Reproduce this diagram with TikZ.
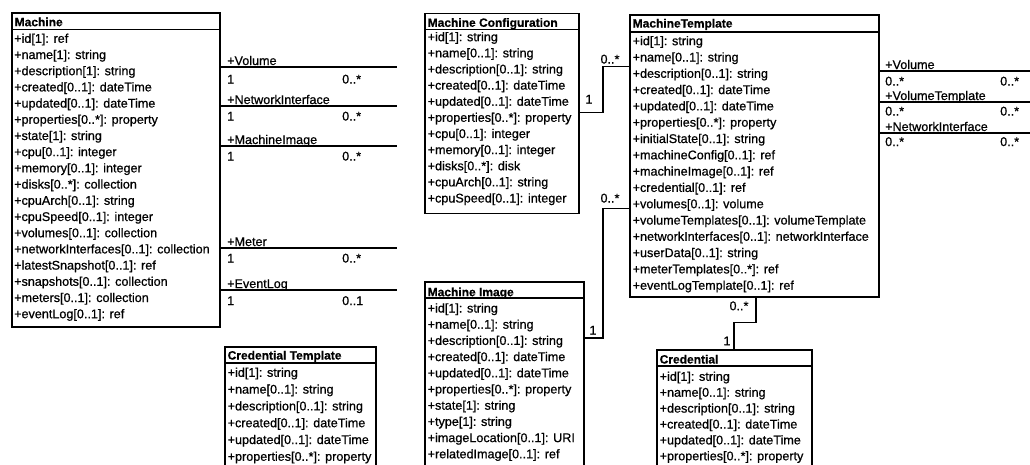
\documentclass[tikz,border=0pt]{standalone}
\usepackage{fontspec}
\setmainfont{Liberation Sans}
\newfontfamily\rowfont[FakeBold=0.7]{Liberation Sans}
\newfontfamily\headfont[FakeBold=0.6]{Liberation Sans Bold}
\tikzset{
  boxst/.style={draw, line width=1.6pt, inner sep=0pt, outer sep=0pt, anchor=north west},
  rowst/.style={anchor=west, inner sep=0pt, text height=9.5pt, text depth=2.5pt, font=\rowfont\fontsize{12.6}{15}\selectfont},
  lab/.style={rowst, anchor=center},
  headst/.style={rowst, font=\headfont\fontsize{12}{15}\selectfont},
  hline/.style={line width=1.8pt},
  link/.style={line width=1.3pt},
}
\newcommand\umlclass[8]{%
  \node[boxst, minimum width={(#4)-(#2)}, minimum height={(#5)-(#3)}] (#1) at (#2,#3) {};
  \node[headst] (#1-h) at ({#2+2.5},#6) {#8};
  \draw[hline] (#2,#7) -- (#4,#7);
}
\newcommand\umlrows[5]{%
  \foreach \t [count=\i] in {#5} \node[rowst] (#1-\i) at ({#2}, {#3+(\i-1)*#4}) {\t};
}
\begin{document}
\begin{tikzpicture}[x=1pt, y=-1pt]
\useasboundingbox (0,0) rectangle (1030,464);
\clip (0,0) rectangle (1030,464);
\fill[white] (0,0) rectangle (1030,464);

% Machine
\umlclass{machine}{12}{13}{220}{327}{22.7}{29.5}{Machine}
\umlrows{machine}{14}{39.3}{16.2}{{+id[1]: ref},{+name[1]: string},{+description[1]: string},{+created[0..1]: dateTime},{+updated[0..1]: dateTime},{+properties[0..*]: property},{+state[1]: string},{+cpu[0..1]: integer},{+memory[0..1]: integer},{+disks[0..*]: collection},{+cpuArch[0..1]: string},{+cpuSpeed[0..1]: integer},{+volumes[0..1]: collection},{+networkInterfaces[0..1]: collection},{+latestSnapshot[0..1]: ref},{+snapshots[0..1]: collection},{+meters[0..1]: collection},{+eventLog[0..1]: ref}}

% Machine Configuration
\umlclass{mconf}{425}{13.3}{579}{213.3}{23.3}{29.5}{Machine Configuration}
\umlrows{mconf}{427.5}{37.7}{16.13}{{+id[1]: string},{+name[0..1]: string},{+description[0..1]: string},{+created[0..1]: dateTime},{+updated[0..1]: dateTime},{+properties[0..*]: property},{+cpu[0..1]: integer},{+memory[0..1]: integer},{+disks[0..*]: disk},{+cpuArch[0..1]: string},{+cpuSpeed[0..1]: integer}}

% MachineTemplate
\umlclass{mtemp}{630}{15}{879}{297}{24}{32}{MachineTemplate}
\umlrows{mtemp}{632.5}{41.7}{16.3}{{+id[1]: string},{+name[0..1]: string},{+description[0..1]: string},{+created[0..1]: dateTime},{+updated[0..1]: dateTime},{+properties[0..*]: property},{+initialState[0..1]: string},{+machineConfig[0..1]: ref},{+machineImage[0..1]: ref},{+credential[0..1]: ref},{+volumes[0..1]: volume},{+volumeTemplates[0..1]: volumeTemplate},{+networkInterfaces[0..1]: networkInterface},{+userData[0..1]: string},{+meterTemplates[0..*]: ref},{+eventLogTemplate[0..1]: ref}}

% Machine Image
\umlclass{mimg}{425}{281.7}{584}{480}{292.7}{298}{Machine Image}
\umlrows{mimg}{427.5}{309}{16.2}{{+id[1]: string},{+name[0..1]: string},{+description[0..1]: string},{+created[0..1]: dateTime},{+updated[0..1]: dateTime},{+properties[0..*]: property},{+state[1]: string},{+type[1]: string},{+imageLocation[0..1]: URI},{+relatedImage[0..1]: ref}}

% Credential Template
\umlclass{credt}{225}{346.7}{376}{480}{356}{363}{Credential Template}
\umlrows{credt}{227.5}{373.3}{16.8}{{+id[1]: string},{+name[0..1]: string},{+description[0..1]: string},{+created[0..1]: dateTime},{+updated[0..1]: dateTime},{+properties[0..*]: property}}

% Credential
\umlclass{cred}{657}{350}{812}{480}{360}{366}{Credential}
\umlrows{cred}{659.5}{377.3}{15.9}{{+id[1]: string},{+name[0..1]: string},{+description[0..1]: string},{+created[0..1]: dateTime},{+updated[0..1]: dateTime},{+properties[0..*]: property}}

% Machine associations (free ends)
\coordinate (mvol) at (397,67);
\coordinate (mni) at (397,106);
\coordinate (mmi) at (397,146);
\coordinate (mmet) at (397,248);
\coordinate (mev) at (397,290);
\draw[link] (machine.east |- mvol) -- (mvol);
\draw[link] (machine.east |- mni) -- (mni);
\draw[link] (machine.east |- mmi) -- (mmi);
\draw[link] (machine.east |- mmet) -- (mmet);
\draw[link] (machine.east |- mev) -- (mev);
\node[rowst] (mvol-l) at (227,61.5) {+Volume};
\node[rowst] (mvol-a) at (227,80) {1};
\node[rowst] (mvol-b) at (342,80) {0..*};
\node[rowst] (mni-l) at (227,100.5) {+NetworkInterface};
\node[rowst] (mni-a) at (227,117) {1};
\node[rowst] (mni-b) at (342,117) {0..*};
\node[rowst] (mmi-l) at (227,140.5) {+MachineImage};
\node[rowst] (mmi-a) at (227,157) {1};
\node[rowst] (mmi-b) at (342,157) {0..*};
\node[rowst] (mmet-l) at (227,242.5) {+Meter};
\node[rowst] (mmet-a) at (227,259) {1};
\node[rowst] (mmet-b) at (342,259) {0..*};
\node[rowst] (mev-l) at (227,284.5) {+EventLog};
\node[rowst] (mev-a) at (227,301.5) {1};
\node[rowst] (mev-b) at (342,301.5) {0..1};

% MachineTemplate associations (free ends)
\coordinate (tvol) at (1030,71);
\coordinate (tvt) at (1030,102);
\coordinate (tni) at (1030,133);
\draw[link] (mtemp.east |- tvol) -- (tvol);
\draw[link] (mtemp.east |- tvt) -- (tvt);
\draw[link] (mtemp.east |- tni) -- (tni);
\node[rowst] (tvol-l) at (885,65.5) {+Volume};
\node[rowst] (tvol-a) at (885,82) {0..*};
\node[rowst] (tvol-b) at (1000,82) {0..*};
\node[rowst] (tvt-l) at (885,96.5) {+VolumeTemplate};
\node[rowst] (tvt-a) at (885,112) {0..*};
\node[rowst] (tvt-b) at (1000,112) {0..*};
\node[rowst] (tni-l) at (885,127.5) {+NetworkInterface};
\node[rowst] (tni-a) at (885,142.5) {0..*};
\node[rowst] (tni-b) at (1000,142.5) {0..*};

% Machine Configuration -> MachineTemplate
\coordinate (cb) at (603,112.7);
\coordinate (ct) at (603,66.7);
\draw[link] (mconf.east |- cb) -- (cb) -- (ct) -- (mtemp.west |- ct);
\node[lab] (c-a) at (589,100) {1};
\node[lab] (c-b) at (610,60) {0..*};

% Machine Image -> MachineTemplate
\coordinate (ib) at (603,338);
\coordinate (it) at (603,208.5);
\draw[link] (mimg.east |- ib) -- (ib) -- (it) -- (mtemp.west |- it);
\node[lab] (i-a) at (593,331) {1};
\node[lab] (i-b) at (610,199) {0..*};

% MachineTemplate -> Credential
\coordinate (k1) at (756,322.7);
\coordinate (k2) at (734,322.7);
\draw[link] (mtemp.south -| k1) -- (k1) -- (k2) -- (cred.north -| k2);
\node[lab] (k-a) at (739,306.7) {0..*};
\node[lab] (k-b) at (727,341.7) {1};
\end{tikzpicture}
\end{document}
